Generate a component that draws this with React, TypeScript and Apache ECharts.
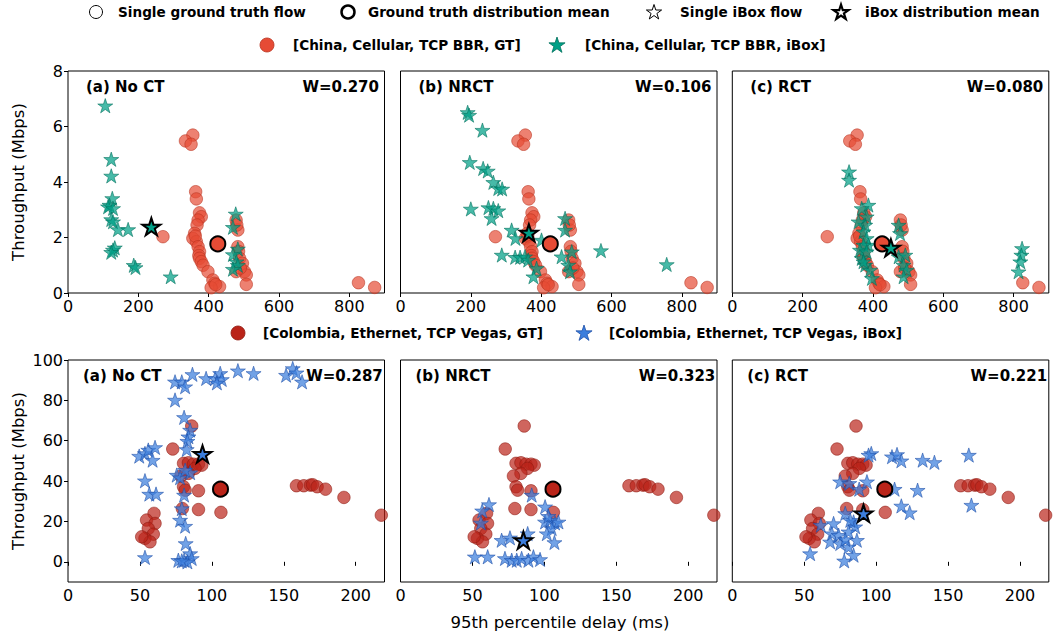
import React, { useEffect, useRef } from "react";
import * as echarts from "echarts";

// ---------- data ----------
const panelLabels = ["(a) No CT", "(b) NRCT", "(c) RCT"];
const topW = ["W=0.270", "W=0.106", "W=0.080"];
const bottomW = ["W=0.287", "W=0.323", "W=0.221"];

const topXTicks = [0, 200, 400, 600, 800];
const topYTicks = [0, 2, 4, 6, 8];
const bottomXTicks = [0, 50, 100, 150, 200];
const bottomYTicks = [0, 20, 40, 60, 80, 100];

// China, Cellular, TCP BBR — ground truth (same in all panels)
const topGT = [
  [355, 5.69], [334, 5.48], [350, 5.36], [363, 3.65], [365, 3.39], [374, 2.89], [379, 2.75],
  [370, 2.63], [367, 2.45], [270, 2.03], [360, 2.15], [355, 1.97], [365, 1.85], [362, 2.05],
  [370, 1.67], [374, 1.49], [372, 1.35], [374, 1.25], [379, 1.13], [384, 1.0], [398, 0.77],
  [412, 0.47], [417, 0.35], [431, 0.23], [407, 0.19], [420, 0.3], [478, 2.63], [483, 2.27],
  [480, 2.45], [483, 1.67], [485, 1.5], [488, 1.25], [496, 1.07], [502, 0.77], [507, 0.65],
  [507, 0.31], [478, 0.77], [490, 0.9], [826, 0.37], [872, 0.2],
];
const topGTMean = [426, 1.77];

const topIBoxA = [
  [106, 6.75], [123, 4.82], [123, 4.22], [126, 3.41], [118, 3.17], [114, 3.11], [128, 3.05],
  [123, 2.65], [128, 2.57], [142, 2.29], [171, 2.29], [128, 1.55], [133, 1.63], [123, 1.47],
  [187, 1.0], [192, 0.92], [292, 0.59], [477, 2.85], [469, 2.37], [483, 1.59], [469, 1.39],
  [479, 1.13], [483, 1.0], [469, 0.86],
];
const topIBoxB = [
  [191, 6.51], [195, 6.41], [233, 5.87], [197, 4.71], [235, 4.49], [248, 4.4], [264, 3.99],
  [278, 3.77], [289, 3.75], [200, 3.03], [250, 3.08], [264, 3.05], [278, 2.97], [259, 2.69],
  [316, 2.27], [327, 1.97], [401, 1.91], [288, 1.37], [326, 1.29], [340, 1.29], [354, 1.31],
  [363, 1.19], [387, 0.89], [378, 0.59], [468, 2.69], [468, 2.27], [458, 1.31], [487, 1.49],
  [477, 1.01], [482, 0.77], [570, 1.53], [757, 1.03],
];
const topIBoxC = [
  [332, 4.37], [332, 4.07], [387, 3.17], [382, 2.75], [378, 2.45], [373, 2.21], [382, 1.97],
  [387, 1.73], [368, 1.25], [378, 1.01], [392, 0.83], [397, 0.53], [368, 3.05], [359, 2.57],
  [373, 1.73], [363, 1.55], [382, 1.49], [373, 1.13], [473, 2.45], [477, 2.15], [473, 1.31],
  [492, 1.37], [487, 1.01], [496, 0.83], [487, 0.59], [824, 1.61], [822, 1.37], [819, 1.13],
  [814, 0.77],
];
const topIBoxMeans = [[237, 2.39], [365, 2.17], [451, 1.63]];

// Colombia, Ethernet, TCP Vegas — ground truth (same in all panels)
const bottomGT = [
  [86, 67.3], [72.8, 55.9], [80.3, 48.8], [83.7, 49.1], [87.2, 48.4], [90.7, 48.4], [93, 47.9],
  [88.3, 46.3], [83.7, 43.8], [78.5, 42.5], [80.3, 37.2], [81.4, 35.5], [90.7, 35.2], [79.5, 26.4],
  [90.7, 25.9], [106.3, 24.5], [59.8, 24], [54.6, 20.7], [60.5, 19], [55.8, 16.5], [59.3, 13.7],
  [53.5, 11.6], [57, 9.9], [51.2, 12.4], [158.8, 37.7], [163.9, 37.7], [168.5, 38], [170, 38.2],
  [173.2, 37.2], [179, 36], [191.8, 31.9], [217.8, 23.1],
];
const bottomGTMean = [106, 36];

const bottomIBoxA = [
  [74.4, 89.2], [79.1, 89.2], [81.4, 86.8], [86.5, 92.9], [96, 90.9], [102.3, 90.9], [105.8, 93.4],
  [106.9, 90.4], [103.5, 88.7], [118.1, 94.7], [129, 93.4], [151.6, 92.5], [156.2, 95.8],
  [158.8, 93.7], [162.7, 89.2], [74.4, 80.2], [80.7, 71.6], [84.9, 65.3], [83.7, 62], [83, 59.8],
  [82.5, 55.7], [49.5, 52.4], [53.5, 53.7], [55.8, 55.4], [60.5, 56.7], [58.8, 50.4], [75.6, 43],
  [77.9, 41.7], [84.9, 44.2], [81.4, 45.4], [53.5, 40.2], [56.5, 33.6], [61.2, 33.6], [80.7, 33.1],
  [79.1, 26.4], [77.9, 20.7], [81.4, 17.7], [81.8, 9.1], [53.5, 2.2], [76.7, 0.8], [80.7, 0.8],
  [84.9, 4.1], [86, 1.7], [83, 0], [79.1, 0.5],
];
const bottomIBoxB = [
  [91.2, 33.1], [100.5, 27.3], [61.5, 28.4], [56.8, 25.3], [55.9, 19.3], [70.3, 10.7], [76.1, 11.9],
  [88.4, 14], [51.7, 2.5], [60.6, 2.5], [72.6, 1.7], [77.3, 0.8], [80.8, 0.8], [84.2, 1.7],
  [88.9, 0.8], [92.4, 2.5], [97, 1.2], [100.5, 19.8], [104, 20.7], [107.4, 19.3], [105.1, 16.5],
  [101.7, 14], [107, 9.6], [102.8, 22.6], [109.8, 19.8],
];
const bottomIBoxC = [
  [96.6, 53.7], [94.7, 52.9], [111, 52.1], [114.5, 53.2], [117.5, 50.1], [132.3, 50.4], [140.5, 49.3],
  [164.4, 52.9], [75, 39.7], [81.3, 38.9], [88.2, 36], [93.6, 39.7], [112.8, 36], [128.8, 35.5],
  [117.5, 27.7], [123.3, 24.4], [166.2, 28.1], [78.5, 24], [61.5, 18.2], [70.4, 19], [84.3, 19.8],
  [85.4, 17.4], [69.2, 14], [73.9, 13.2], [80.8, 14.9], [86.6, 10.7], [68, 9.9], [75, 9.1],
  [80.8, 7.4], [84.3, 3.3], [77.8, 0.5], [54.1, 4.1], [78.5, 11.1], [82, 20.6],
];
const bottomIBoxMeans = [[93.5, 53.4], [85.4, 10.7], [91.2, 24.0]];

// ---------- styles ----------
const FONT = "DejaVu Sans";
const STAR =
  "path://M0,-1L-0.2245,-0.309L-0.9511,-0.309L-0.3633,0.118L-0.5878,0.809L0,0.382L0.5878,0.809L0.3633,0.118L0.9511,-0.309L0.2245,-0.309Z";

const C_TOP_GT = "#E64B35";
const C_TOP_GT_EDGE = "#B8331F";
const C_TOP_IB = "#00A087";
const C_TOP_IB_EDGE = "#00705C";
const C_BOT_GT = "#BA2419";
const C_BOT_GT_EDGE = "#8E1A10";
const C_BOT_IB = "#3C7EDD";
const C_BOT_IB_EDGE = "#1E4FA8";

const LEFTS = [68, 400.5, 732.3];
const TOPS = [71, 360];
const GW = 316.5;
const GH = 222;
const LABEL_DX = [18, 15];
const W_DX = [5.5, 1.7];
const LABEL_DY = [15.7, 16];

function starPts(cx: number, cy: number, R: number) {
  const pts: number[][] = [];
  for (let i = 0; i < 10; i++) {
    const r = i % 2 === 0 ? R : R * 0.382;
    const a = Math.PI / 2 + (i * Math.PI) / 5;
    pts.push([cx + r * Math.cos(a), cy - r * Math.sin(a)]);
  }
  return pts;
}

function buildOption() {
  const grids: any[] = [];
  const xAxes: any[] = [];
  const yAxes: any[] = [];
  const series: any[] = [];
  const graphics: any[] = [];

  for (let r = 0; r < 2; r++) {
    for (let c = 0; c < 3; c++) {
      const p = r * 3 + c;
      grids.push({
        left: LEFTS[c],
        top: TOPS[r],
        width: GW,
        height: GH,
        show: true,
        borderColor: "#000",
        borderWidth: 1,
        backgroundColor: "transparent",
      });
      const xt = r === 0 ? topXTicks : bottomXTicks;
      const yt = r === 0 ? topYTicks : bottomYTicks;
      xAxes.push({
        type: "value",
        gridIndex: p,
        min: 0,
        max: r === 0 ? 900 : 220,
        axisLine: { show: false },
        splitLine: { show: false },
        axisTick: { show: true, customValues: xt, length: 4, lineStyle: { color: "#000" } },
        axisLabel: {
          customValues: xt,
          color: "#000",
          fontSize: 16,
          fontFamily: FONT,
          margin: 5,
        },
      });
      yAxes.push({
        type: "value",
        gridIndex: p,
        min: r === 0 ? 0 : -10,
        max: r === 0 ? 8 : 100,
        axisLine: { show: false },
        splitLine: { show: false },
        axisTick: { show: c === 0, customValues: yt, length: 4, lineStyle: { color: "#000" } },
        axisLabel: {
          show: c === 0,
          customValues: yt,
          color: "#000",
          fontSize: 16,
          fontFamily: FONT,
          margin: 5,
        },
      });

      const gt = r === 0 ? topGT : bottomGT;
      const ib = r === 0 ? [topIBoxA, topIBoxB, topIBoxC][c] : [bottomIBoxA, bottomIBoxB, bottomIBoxC][c];
      const gtMean = r === 0 ? topGTMean : bottomGTMean;
      const ibMean = r === 0 ? topIBoxMeans[c] : bottomIBoxMeans[c];
      const gc = r === 0 ? C_TOP_GT : C_BOT_GT;
      const ge = r === 0 ? C_TOP_GT_EDGE : C_BOT_GT_EDGE;
      const ic = r === 0 ? C_TOP_IB : C_BOT_IB;
      const ie = r === 0 ? C_TOP_IB_EDGE : C_BOT_IB_EDGE;

      series.push({
        type: "scatter",
        xAxisIndex: p,
        yAxisIndex: p,
        data: gt,
        symbol: "circle",
        symbolSize: 12.5,
        silent: true,
        itemStyle: { color: gc, opacity: 0.7, borderColor: ge, borderWidth: 0.8 },
      });
      series.push({
        type: "scatter",
        xAxisIndex: p,
        yAxisIndex: p,
        data: ib,
        symbol: STAR,
        symbolSize: [15, 14.3],
        silent: true,
        itemStyle: { color: ic, opacity: 0.72, borderColor: ie, borderWidth: 0.8 },
      });
      series.push({
        type: "scatter",
        xAxisIndex: p,
        yAxisIndex: p,
        data: [gtMean],
        symbol: "circle",
        symbolSize: 15,
        silent: true,
        itemStyle: { color: gc, opacity: 1, borderColor: "#000", borderWidth: 2 },
      });
      series.push({
        type: "scatter",
        xAxisIndex: p,
        yAxisIndex: p,
        data: [ibMean],
        symbol: STAR,
        symbolSize: [18, 17.1],
        silent: true,
        itemStyle: { color: ic, opacity: 1, borderColor: "#000", borderWidth: 2 },
      });

      const ty = TOPS[r] + LABEL_DY[r];
      graphics.push({
        type: "text",
        z: 100,
        style: {
          text: panelLabels[c],
          x: LEFTS[c] + LABEL_DX[r],
          y: ty,
          font: `bold 15px "${FONT}"`,
          fill: "#000",
          textAlign: "left",
          textVerticalAlign: "middle",
          verticalAlign: "middle",
        },
      });
      graphics.push({
        type: "text",
        z: 100,
        style: {
          text: r === 0 ? topW[c] : bottomW[c],
          x: LEFTS[c] + GW - W_DX[r],
          y: ty,
          font: `bold 15px "${FONT}"`,
          fill: "#000",
          textAlign: "right",
          textVerticalAlign: "middle",
          verticalAlign: "middle",
        },
      });
    }
  }

  // axis titles
  const axisTitle = (text: string, x: number, y: number, rot: number) => ({
    type: "text",
    x,
    y,
    rotation: rot,
    style: {
      text,
      x: 0,
      y: 0,
      font: `16.5px "${FONT}"`,
      fill: "#000",
      textAlign: "center",
      textVerticalAlign: "middle",
      verticalAlign: "middle",
    },
  });
  graphics.push(axisTitle("Throughput (Mbps)", 18, 182, Math.PI / 2));
  graphics.push(axisTitle("Throughput (Mbps)", 18, 471, Math.PI / 2));
  graphics.push(axisTitle("95th percentile delay (ms)", 560, 622, 0));

  // legends
  const legText = (text: string, x: number, y: number) => ({
    type: "text",
    style: {
      text,
      x,
      y,
      font: `bold 13.6px "${FONT}"`,
      fill: "#000",
      textAlign: "left",
      textVerticalAlign: "middle",
      verticalAlign: "middle",
    },
  });
  const legCircle = (cx: number, cy: number, rr: number, fill: string, stroke: string, lw: number) => ({
    type: "circle",
    shape: { cx, cy, r: rr },
    style: { fill, stroke, lineWidth: lw },
  });
  const legStar = (cx: number, cy: number, R: number, fill: string, stroke: string, lw: number) => ({
    type: "polygon",
    shape: { points: starPts(cx, cy, R) },
    style: { fill, stroke, lineWidth: lw, lineJoin: "miter" },
  });

  graphics.push(legCircle(96, 12, 6.5, "#fff", "#000", 1));
  graphics.push(legText("Single ground truth flow", 118, 12));
  graphics.push(legCircle(348, 12, 6.5, "#fff", "#000", 2.5));
  graphics.push(legText("Ground truth distribution mean", 368, 12));
  graphics.push(legStar(654, 12.5, 8, "#fff", "#000", 1));
  graphics.push(legText("Single iBox flow", 680, 12));
  graphics.push(legStar(841, 12.5, 8, "#fff", "#000", 2.2));
  graphics.push(legText("iBox distribution mean", 865, 12));

  graphics.push(legCircle(267, 45, 7, C_TOP_GT, C_TOP_GT_EDGE, 0.8));
  graphics.push(legText("[China, Cellular, TCP BBR, GT]", 293, 45));
  graphics.push(legStar(557, 45.5, 8.5, C_TOP_IB, C_TOP_IB_EDGE, 0.8));
  graphics.push(legText("[China, Cellular, TCP BBR, iBox]", 585, 45));

  graphics.push(legCircle(238, 333, 7, C_BOT_GT, C_BOT_GT_EDGE, 0.8));
  graphics.push(legText("[Colombia, Ethernet, TCP Vegas, GT]", 263, 333));
  graphics.push(legStar(584, 333.5, 8.5, C_BOT_IB, C_BOT_IB_EDGE, 0.8));
  graphics.push(legText("[Colombia, Ethernet, TCP Vegas, iBox]", 609, 333));

  return {
    animation: false,
    backgroundColor: "#fff",
    grid: grids,
    xAxis: xAxes,
    yAxis: yAxes,
    series,
    graphic: { elements: graphics },
  };
}

export default function App() {
  const ref = useRef<HTMLDivElement>(null);
  useEffect(() => {
    if (!ref.current) return;
    const chart = echarts.init(ref.current, undefined, { renderer: "svg" });
    chart.setOption(buildOption() as any);
    return () => chart.dispose();
  }, []);
  return (
    <div
      ref={ref}
      style={{ position: "fixed", left: 0, top: 0, width: 1059, height: 639, background: "#fff" }}
    />
  );
}
